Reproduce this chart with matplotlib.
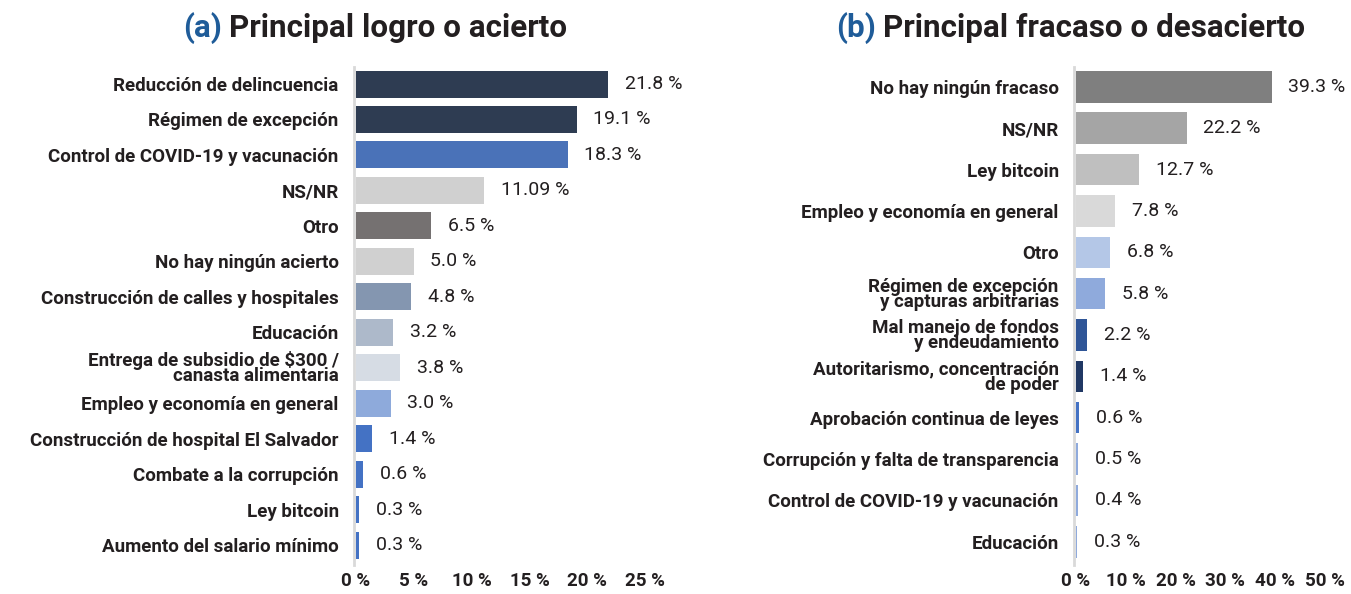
import matplotlib
matplotlib.use("Agg")
import matplotlib.pyplot as plt

plt.rcParams['font.family'] = ['Roboto', 'DejaVu Sans']

# (a) Principal logro o acierto
logro_cats = ["Reducción de delincuencia", "Régimen de excepción",
              "Control de COVID-19 y vacunación", "NS/NR", "Otro",
              "No hay ningún acierto", "Construcción de calles y hospitales",
              "Educación", "Entrega de subsidio de \\$300 /\ncanasta alimentaria",
              "Empleo y economía en general", "Construcción de hospital El Salvador",
              "Combate a la corrupción", "Ley bitcoin", "Aumento del salario mínimo"]
logro_vals = [21.8, 19.1, 18.3, 11.09, 6.5, 5.0, 4.8, 3.2, 3.8, 3.0, 1.4, 0.6, 0.3, 0.3]
logro_txt = ["21.8 %", "19.1 %", "18.3 %", "11.09 %", "6.5 %", "5.0 %", "4.8 %",
             "3.2 %", "3.8 %", "3.0 %", "1.4 %", "0.6 %", "0.3 %", "0.3 %"]
logro_colors = ["#2E3C52", "#2E3C52", "#4A72B8", "#D0D0D0", "#757171", "#D0D0D0",
                "#8496B0", "#ADB9CA", "#D6DCE4", "#8EAADB", "#4472C4", "#4472C4",
                "#4472C4", "#4472C4"]
logro_ticks = [0, 5, 10, 15, 20, 25]

# (b) Principal fracaso o desacierto
fracaso_cats = ["No hay ningún fracaso", "NS/NR", "Ley bitcoin",
                "Empleo y economía en general", "Otro",
                "Régimen de excepción\ny capturas arbitrarias",
                "Mal manejo de fondos\ny endeudamiento",
                "Autoritarismo, concentración\nde poder",
                "Aprobación continua de leyes", "Corrupción y falta de transparencia",
                "Control de COVID-19 y vacunación", "Educación"]
fracaso_vals = [39.3, 22.2, 12.7, 7.8, 6.8, 5.8, 2.2, 1.4, 0.6, 0.5, 0.4, 0.3]
fracaso_txt = ["39.3 %", "22.2 %", "12.7 %", "7.8 %", "6.8 %", "5.8 %", "2.2 %",
               "1.4 %", "0.6 %", "0.5 %", "0.4 %", "0.3 %"]
fracaso_colors = ["#7F7F7F", "#A5A5A5", "#BFBFBF", "#D9D9D9", "#B4C7E7", "#8FAADC",
                  "#2F5597", "#203864", "#4472C4", "#8FAADC", "#8FAADC", "#8FAADC"]
fracaso_ticks = [0, 10, 20, 30, 40, 50]

W, H = 1351, 594
fig = plt.figure(figsize=(W / 100, H / 100), dpi=100)

DARK = "#231F20"


def panel(rect, cats, vals, txt, colors, ticks):
    ax = fig.add_axes(rect)
    for s in ['top', 'right', 'bottom']:
        ax.spines[s].set_visible(False)
    ax.spines['left'].set_position(('outward', 1.5))
    ax.spines['left'].set_color('#D9D9D9')
    ax.spines['left'].set_linewidth(2)
    ax.spines['left'].set_zorder(1)

    n = len(cats)
    ys = list(range(n))
    ax.barh(ys, vals, height=0.76, color=colors, zorder=3)
    ax.set_xlim(ticks[0], ticks[-1])
    ax.set_ylim(n - 0.44, -0.48)
    ax.set_yticks(ys)
    ax.set_yticklabels(cats, fontsize=13.5, fontweight='bold', color=DARK,
                       linespacing=0.8)
    ax.set_xticks(ticks)
    ax.set_xticklabels([f"{t} %" for t in ticks], fontsize=13.5, fontweight='bold',
                       color=DARK)
    ax.tick_params(axis='both', length=0)
    ax.tick_params(axis='y', pad=11)
    ax.tick_params(axis='x', pad=5)
    for y, v, t in zip(ys, vals, txt):
        ax.annotate(t, (v, y), xytext=(12, 0), textcoords='offset points',
                    va='center', ha='left', fontsize=14, color=DARK)
    return ax


panel([356 / W, 29 / H, 289 / W, 498 / H], logro_cats, logro_vals, logro_txt,
      logro_colors, logro_ticks)
panel([1076 / W, 29 / H, 249 / W, 498 / H], fracaso_cats, fracaso_vals,
      fracaso_txt, fracaso_colors, fracaso_ticks)

# titles
ty = 1 - 28 / H
fig.text(183 / W, ty, "(a)", color="#1F5C99", fontsize=22.6, fontweight='bold', va='center')
fig.text(229 / W, ty, "Principal logro o acierto", color=DARK, fontsize=22.6,
         fontweight='bold', va='center')
fig.text(836 / W, ty, "(b)", color="#1F5C99", fontsize=22.6, fontweight='bold', va='center')
fig.text(883 / W, ty, "Principal fracaso o desacierto", color=DARK, fontsize=22.6,
         fontweight='bold', va='center')

fig.savefig("out.png", dpi=100)
